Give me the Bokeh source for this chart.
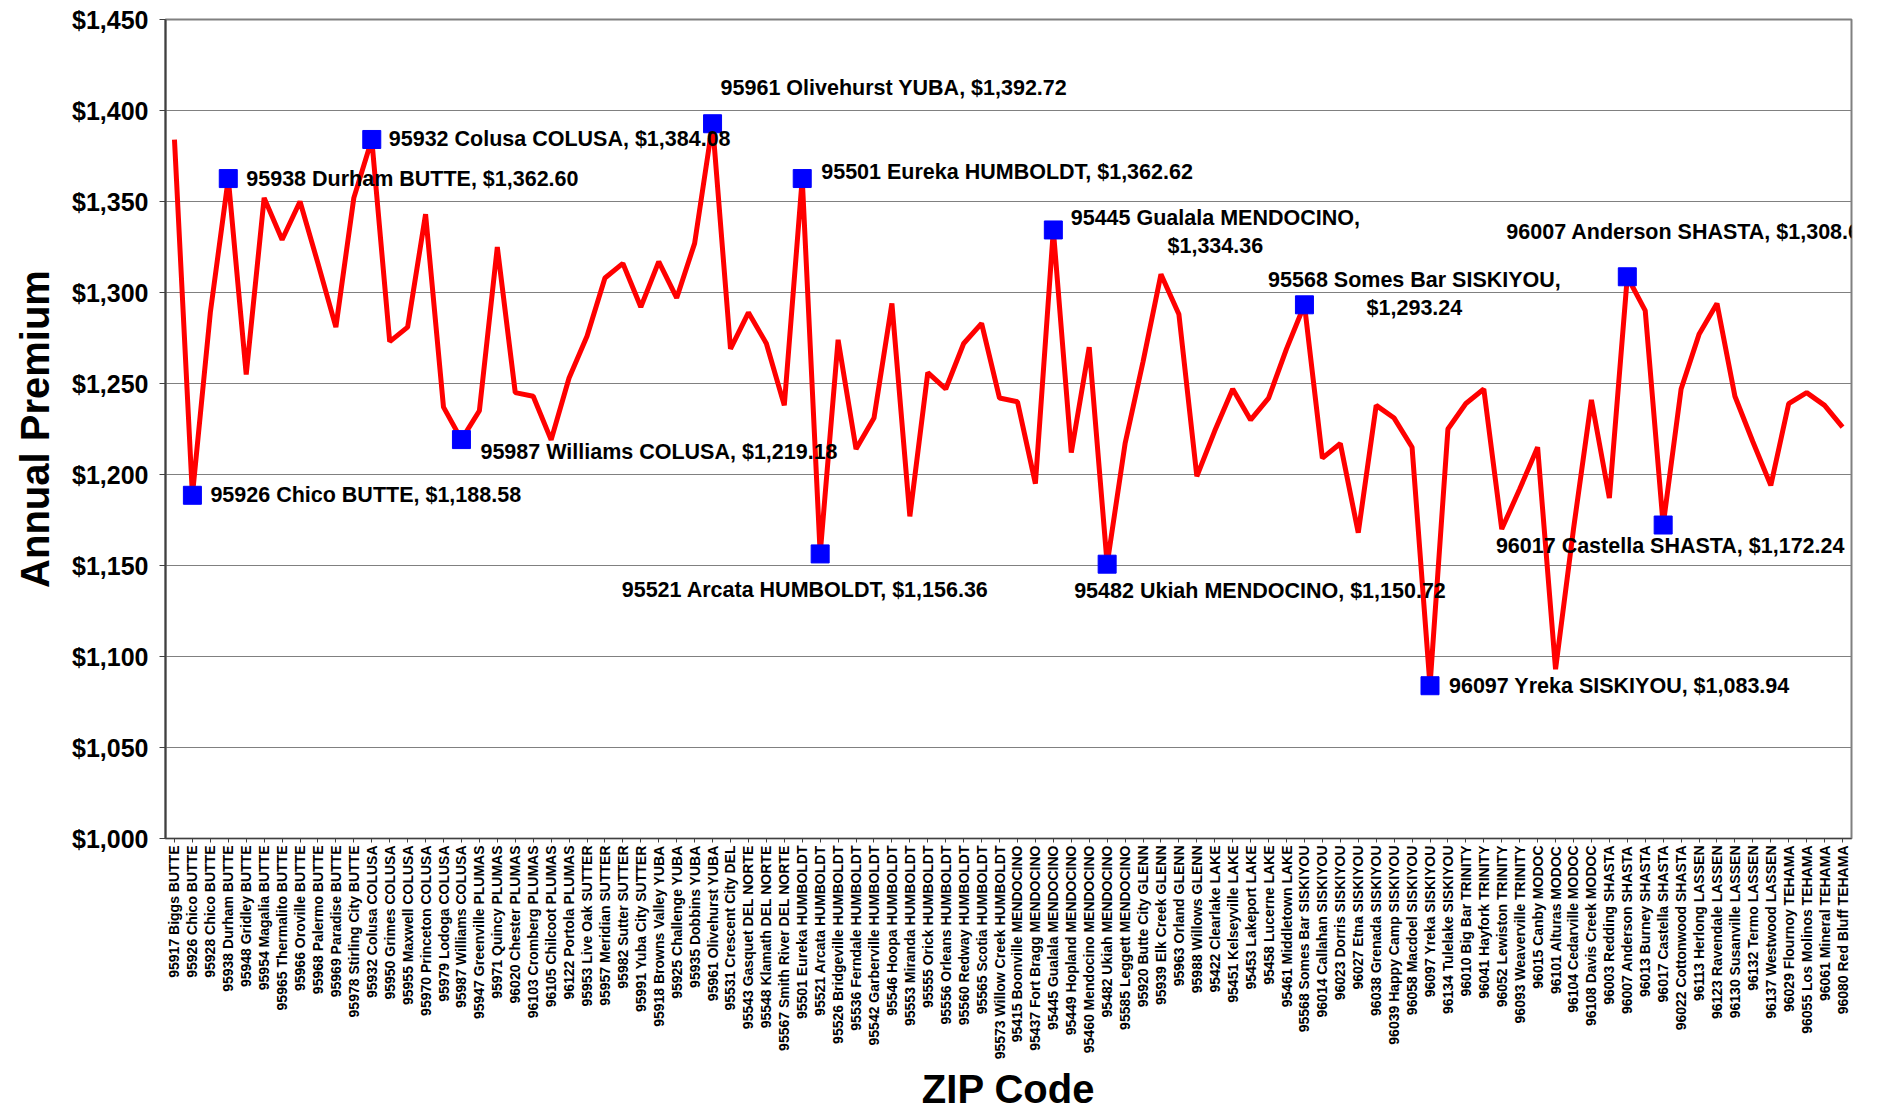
import math
from bokeh.plotting import figure
from bokeh.models import (ColumnDataSource, FactorRange, Range1d, SingleIntervalTicker,
                          NumeralTickFormatter, LabelSet)
from bokeh.core.properties import value
from bokeh.embed import file_html
from bokeh.resources import INLINE

# ---------------- data ----------------
zip_codes = [
    "95917 Biggs BUTTE", "95926 Chico BUTTE", "95928 Chico BUTTE", "95938 Durham BUTTE",
    "95948 Gridley BUTTE", "95954 Magalia BUTTE", "95965 Thermalito BUTTE", "95966 Oroville BUTTE",
    "95968 Palermo BUTTE", "95969 Paradise BUTTE", "95978 Stirling City BUTTE", "95932 Colusa COLUSA",
    "95950 Grimes COLUSA", "95955 Maxwell COLUSA", "95970 Princeton COLUSA", "95979 Lodoga COLUSA",
    "95987 Williams COLUSA", "95947 Greenville PLUMAS", "95971 Quincy PLUMAS", "96020 Chester PLUMAS",
    "96103 Cromberg PLUMAS", "96105 Chilcoot PLUMAS", "96122 Portola PLUMAS", "95953 Live Oak SUTTER",
    "95957 Meridian SUTTER", "95982 Sutter SUTTER", "95991 Yuba City SUTTER", "95918 Browns Valley YUBA",
    "95925 Challenge YUBA", "95935 Dobbins YUBA", "95961 Olivehurst YUBA", "95531 Crescent City DEL",
    "95543 Gasquet DEL NORTE", "95548 Klamath DEL NORTE", "95567 Smith River DEL NORTE", "95501 Eureka HUMBOLDT",
    "95521 Arcata HUMBOLDT", "95526 Bridgeville HUMBOLDT", "95536 Ferndale HUMBOLDT", "95542 Garberville HUMBOLDT",
    "95546 Hoopa HUMBOLDT", "95553 Miranda HUMBOLDT", "95555 Orick HUMBOLDT", "95556 Orleans HUMBOLDT",
    "95560 Redway HUMBOLDT", "95565 Scotia HUMBOLDT", "95573 Willow Creek HUMBOLDT", "95415 Boonville MENDOCINO",
    "95437 Fort Bragg MENDOCINO", "95445 Gualala MENDOCINO", "95449 Hopland MENDOCINO", "95460 Mendocino MENDOCINO",
    "95482 Ukiah MENDOCINO", "95585 Leggett MENDOCINO", "95920 Butte City GLENN", "95939 Elk Creek GLENN",
    "95963 Orland GLENN", "95988 Willows GLENN", "95422 Clearlake LAKE", "95451 Kelseyville LAKE",
    "95453 Lakeport LAKE", "95458 Lucerne LAKE", "95461 Middletown LAKE", "95568 Somes Bar SISKIYOU",
    "96014 Callahan SISKIYOU", "96023 Dorris SISKIYOU", "96027 Etna SISKIYOU", "96038 Grenada SISKIYOU",
    "96039 Happy Camp SISKIYOU", "96058 Macdoel SISKIYOU", "96097 Yreka SISKIYOU", "96134 Tulelake SISKIYOU",
    "96010 Big Bar TRINITY", "96041 Hayfork TRINITY", "96052 Lewiston TRINITY", "96093 Weaverville TRINITY",
    "96015 Canby MODOC", "96101 Alturas MODOC", "96104 Cedarville MODOC", "96108 Davis Creek MODOC",
    "96003 Redding SHASTA", "96007 Anderson SHASTA", "96013 Burney SHASTA", "96017 Castella SHASTA",
    "96022 Cottonwood SHASTA", "96113 Herlong LASSEN", "96123 Ravendale LASSEN", "96130 Susanville LASSEN",
    "96132 Termo LASSEN", "96137 Westwood LASSEN", "96029 Flournoy TEHAMA", "96055 Los Molinos TEHAMA",
    "96061 Mineral TEHAMA", "96080 Red Bluff TEHAMA",
]

premiums = [
    1384, 1188.58, 1289, 1362.60, 1255, 1352, 1329, 1350, 1316, 1281, 1352, 1384.08,
    1273, 1281, 1343, 1237, 1219.18, 1235, 1325, 1245, 1243, 1219, 1253, 1276,
    1308, 1316, 1292, 1317, 1297, 1327, 1392.72, 1269, 1289, 1272, 1238, 1362.62,
    1156.36, 1274, 1214, 1231, 1294, 1177, 1256, 1247, 1272, 1283, 1242, 1240,
    1195, 1334.36, 1212, 1270, 1150.72, 1217, 1262, 1310, 1288, 1199, 1224, 1247,
    1230, 1242, 1269, 1293.24, 1209, 1217, 1168, 1238, 1231, 1215, 1083.94, 1225,
    1239, 1247, 1170, 1192, 1215, 1093, 1170, 1241, 1187, 1308.64, 1290, 1172.24,
    1247, 1277, 1294, 1243, 1218, 1194, 1239, 1245, 1238, 1226,
]

highlighted = [
    "95926 Chico BUTTE", "95938 Durham BUTTE", "95932 Colusa COLUSA", "95987 Williams COLUSA",
    "95961 Olivehurst YUBA", "95501 Eureka HUMBOLDT", "95521 Arcata HUMBOLDT", "95445 Gualala MENDOCINO",
    "95482 Ukiah MENDOCINO", "95568 Somes Bar SISKIYOU", "96097 Yreka SISKIYOU", "96007 Anderson SHASTA",
    "96017 Castella SHASTA",
]

# ---------------- annotation styling ----------------
# (dx, dy, align) screen px, dy > 0 = down; wrapped labels give a second (dx, dy) for line 2
ann_style = {
    "95926 Chico BUTTE": [(18, 0, "left")],
    "95938 Durham BUTTE": [(18, 0, "left")],
    "95932 Colusa COLUSA": [(17, 0, "left")],
    "95987 Williams COLUSA": [(19, 12, "left")],
    "95961 Olivehurst YUBA": [(8, -36, "left")],
    "95501 Eureka HUMBOLDT": [(19, -7, "left")],
    "95521 Arcata HUMBOLDT": [(-15, 36, "center")],
    "95445 Gualala MENDOCINO": [(162, -12, "center"), (162, 16, "center")],
    "95482 Ukiah MENDOCINO": [(-33, 27, "left")],
    "95568 Somes Bar SISKIYOU": [(110, -25, "center"), (110, 3, "center")],
    "96097 Yreka SISKIYOU": [(19, 0, "left")],
    "96007 Anderson SHASTA": [(-121, -45, "left")],
    "96017 Castella SHASTA": [(7, 21, "center")],
}

FONT = value("Liberation Sans")
LABEL_FONT_SIZE = "21.5px"

src = ColumnDataSource(dict(zip=zip_codes, premium=premiums))

mx, my = [], []
lx, ly, ltext, ldx, ldy, lalign = [], [], [], [], [], []
for name in highlighted:
    v = premiums[zip_codes.index(name)]
    mx.append(name)
    my.append(v)
    styles = ann_style[name]
    money = "${:,.2f}".format(v)
    parts = [name + ", " + money] if len(styles) == 1 else [name + ",", money]
    for part, (dx, dy, align) in zip(parts, styles):
        lx.append(name)
        ly.append(v)
        ltext.append(part)
        ldx.append(dx)
        ldy.append(-dy)
        lalign.append(align)

msrc = ColumnDataSource(dict(x=mx, y=my))
lsrc = ColumnDataSource(dict(x=lx, y=ly, text=ltext, dx=ldx, dy=ldy, align=lalign))

W, H = 1891, 1116
p = figure(x_range=FactorRange(factors=zip_codes, range_padding=0),
           y_range=Range1d(1000, 1450),
           width=W, height=H, output_backend="svg", toolbar_location=None,
           min_border_left=165, min_border_right=W - 1851, min_border_top=19,
           min_border_bottom=H - 838)

p.background_fill_color = "white"
p.border_fill_color = "white"
p.outline_line_color = "#808080"
p.outline_line_width = 2

p.line(x="zip", y="premium", source=src, line_color="#FF0000", line_width=5)
p.scatter(x="x", y="y", source=msrc, marker="square", size=18,
          fill_color="#0000FF", line_color="#0000FF")

labels = LabelSet(x="x", y="y", text="text", source=lsrc,
                  x_offset="dx", y_offset="dy", text_align="align",
                  text_baseline="middle", text_font=FONT, text_font_style="bold",
                  text_font_size=LABEL_FONT_SIZE, text_color="black")
p.add_layout(labels)

# grid
p.xgrid.grid_line_color = None
p.ygrid.grid_line_color = "#808080"
p.ygrid.grid_line_width = 1

# y axis
p.yaxis.ticker = SingleIntervalTicker(interval=50)
p.yaxis.formatter = NumeralTickFormatter(format="$0,0")
p.yaxis.major_label_text_font = "Liberation Sans"
p.yaxis.major_label_text_font_style = "bold"
p.yaxis.major_label_text_font_size = "25px"
p.yaxis.major_label_text_color = "black"
p.yaxis.major_tick_out = 6
p.yaxis.major_tick_in = 0
p.yaxis.minor_tick_line_color = None
p.yaxis.major_label_standoff = 11
p.yaxis.axis_line_color = "#404040"
p.yaxis.axis_line_width = 2
p.yaxis.major_tick_line_color = "#404040"
p.yaxis.axis_label = "Annual Premium"
p.yaxis.axis_label_text_font = "Liberation Sans"
p.yaxis.axis_label_text_font_style = "bold"
p.yaxis.axis_label_text_font_size = "40px"
p.yaxis.axis_label_text_color = "black"
p.yaxis.axis_label_standoff = 12

# x axis
p.xaxis.major_label_orientation = math.pi / 2
p.xaxis.major_label_text_font = "Liberation Sans"
p.xaxis.major_label_text_font_style = "bold"
p.xaxis.major_label_text_font_size = "14px"
p.xaxis.major_label_text_color = "black"
p.xaxis.major_tick_out = 4
p.xaxis.major_tick_in = 0
p.xaxis.major_label_standoff = 3
p.xaxis.axis_line_color = "#404040"
p.xaxis.axis_line_width = 1
p.xaxis.major_tick_line_color = "#404040"
p.xaxis.axis_label = "ZIP Code"
p.xaxis.axis_label_text_font = "Liberation Sans"
p.xaxis.axis_label_text_font_style = "bold"
p.xaxis.axis_label_text_font_size = "40px"
p.xaxis.axis_label_text_color = "black"
p.xaxis.axis_label_standoff = 5

open("out.html", "w").write(file_html(p, INLINE))
